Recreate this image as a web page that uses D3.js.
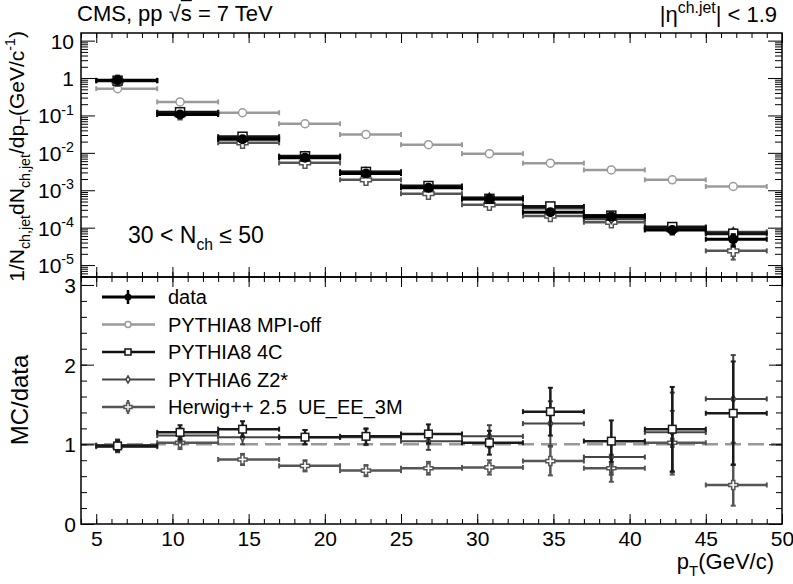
<!DOCTYPE html>
<html>
<head>
<meta charset="utf-8">
<script src="https://cdn.jsdelivr.net/npm/d3@7"></script>
<style>
body { margin: 0; background: #fff; }
text { font-family: "Liberation Sans", Arial, Helvetica, sans-serif; fill: #000; }
</style>
</head>
<body>
<svg id="chart" width="793" height="584"></svg>
<script>
// bins in pT (GeV/c) and mean pT of each bin
const binEdges = [5, 9, 13, 17, 21, 25, 29, 33, 37, 41, 45, 49];
const ptMean = [6.4, 10.5, 14.6, 18.7, 22.7, 26.8, 30.8, 34.8, 38.8, 42.8, 46.8];

// upper panel: 1/N dN/dpT
const dataVals = [0.87, 0.106, 0.023, 0.0074, 0.0028, 0.00116, 0.00058, 0.00026, 0.0002, 0.000087, 0.000049];
const dataErr = [0.08, 0.01, 0.002, 0.0007, 0.0003, 0.00013, 0.00007, 0.00004, 0.00003, 0.000018, 0.000018];
const mpiOffVals = [0.52, 0.23, 0.118, 0.06, 0.031, 0.0165, 0.0095, 0.0053, 0.0035, 0.0019, 0.00126];
const mpiOffErr = [0.005, 0.002, 0.001, 0.0005, 0.0003, 0.0002, 0.0001, 0.00006, 0.00004, 0.00003, 0.00002];
const p84cVals = [0.85, 0.122, 0.027, 0.0081, 0.0031, 0.0013, 0.00059, 0.00037, 0.00021, 0.000104, 0.000069];
const p84cErr = [0.01, 0.002, 0.0006, 0.0002, 0.0001, 0.00005, 0.00003, 0.00003, 0.00002, 0.000015, 0.000012];
const z2Vals = [0.86, 0.118, 0.025, 0.0081, 0.0031, 0.0012, 0.00064, 0.00033, 0.00017, 0.0001, 0.000077];
const z2Err = [0.01, 0.002, 0.0006, 0.0002, 0.0001, 0.00005, 0.00003, 0.00003, 0.00002, 0.000015, 0.000012];
const hwVals = [0.84, 0.108, 0.0186, 0.0054, 0.0019, 0.00081, 0.00041, 0.000205, 0.00014, 0.000089, 0.000024];
const hwErr = [0.01, 0.002, 0.0005, 0.0002, 0.00008, 0.00004, 0.00003, 0.00002, 0.000015, 0.000012, 0.00001];

// lower panel: MC/data
const r4cVals = [0.98, 1.15, 1.19, 1.09, 1.10, 1.13, 1.02, 1.41, 1.04, 1.19, 1.39];
const r4cErr = [0.07, 0.09, 0.10, 0.09, 0.10, 0.12, 0.15, 0.30, 0.26, 0.53, 0.65];
const rz2Vals = [0.99, 1.11, 1.09, 1.09, 1.09, 1.04, 1.10, 1.26, 0.84, 1.15, 1.57];
const rz2Err = [0.07, 0.09, 0.09, 0.09, 0.10, 0.11, 0.14, 0.28, 0.22, 0.50, 0.55];
const rhwVals = [0.97, 1.02, 0.81, 0.73, 0.67, 0.70, 0.71, 0.79, 0.70, 1.02, 0.49];
const rhwErr = [0.07, 0.08, 0.07, 0.07, 0.07, 0.08, 0.09, 0.18, 0.17, 0.40, 0.26];

const xMajor = [5, 10, 15, 20, 25, 30, 35, 40, 45, 50];
const yTopMajor = [1e-5, 1e-4, 1e-3, 1e-2, 1e-1, 1, 10];
const yTopLabels = [["10", "-5"], ["10", "-4"], ["10", "-3"], ["10", "-2"], ["10", "-1"], ["1", ""], ["10", ""]];
const yBotMajor = [0, 1, 2, 3];

const legendNames = ["data", "PYTHIA8 MPI-off", "PYTHIA8 4C", "PYTHIA6 Z2*", "Herwig++ 2.5\u00a0 UE_EE_3M"];

const svg = d3.select("#chart");
svg.append("rect").attr("width", 793).attr("height", 584).attr("fill", "#fff");

const x = d3.scaleLinear().domain([4, 50]).range([81, 782]);
const yTop = d3.scaleLog().domain([4.8e-6, 16]).range([277, 33]);
const yBot = d3.scaleLinear().domain([0, 3.1]).range([524, 277]);

const styles = {
    data: { color: "#000", w: 3, marker: "fcircle", size: 5 },
    mpi: { color: "#9a9a9a", w: 2.5, marker: "ocircle", size: 4 },
    p84c: { color: "#111", w: 3, marker: "osquare", size: 4.5 },
    z2: { color: "#3c3c3c", w: 2.5, marker: "odiamond", size: 4.5 },
    hw: { color: "#555", w: 2.5, marker: "ocross", size: 5.5 }
};

function marker(g, type, cx, cy, s, color) {
    if (type === "fcircle") {
        g.append("circle").attr("cx", cx).attr("cy", cy).attr("r", s).attr("fill", color);
    } else if (type === "ocircle") {
        g.append("circle").attr("cx", cx).attr("cy", cy).attr("r", s)
            .attr("fill", "#fff").attr("stroke", color).attr("stroke-width", 1.5);
    } else if (type === "osquare") {
        g.append("rect").attr("x", cx - s).attr("y", cy - s).attr("width", 2 * s).attr("height", 2 * s)
            .attr("fill", "#fff").attr("stroke", color).attr("stroke-width", 1.5);
    } else if (type === "odiamond") {
        const w = s * 0.6;
        g.append("path").attr("d", `M${cx},${cy - s}L${cx + w},${cy}L${cx},${cy + s}L${cx - w},${cy}Z`)
            .attr("fill", "#fff").attr("stroke", color).attr("stroke-width", 1.5);
    } else if (type === "ocross") {
        const a = s * 0.35;
        const p = [[-a, -s], [a, -s], [a, -a], [s, -a], [s, a], [a, a], [a, s], [-a, s], [-a, a], [-s, a], [-s, -a], [-a, -a]];
        g.append("path").attr("d", "M" + p.map(q => (cx + q[0]) + "," + (cy + q[1])).join("L") + "Z")
            .attr("fill", "#fff").attr("stroke", color).attr("stroke-width", 1.5);
    }
}

function drawSeries(y, vals, errs, st, msize) {
    const g = svg.append("g");
    const ymin = y.domain()[0];
    vals.forEach((v, i) => {
        const cx = x(ptMean[i]), cy = y(v);
        const x0 = x(binEdges[i]), x1 = x(binEdges[i + 1]);
        const yl = y(Math.max(v - errs[i], ymin)), yh = y(v + errs[i]);
        g.append("line").attr("x1", x0).attr("x2", x1).attr("y1", cy).attr("y2", cy)
            .attr("stroke", st.color).attr("stroke-width", st.w);
        [x0, x1].forEach(xe => g.append("line").attr("x1", xe).attr("x2", xe)
            .attr("y1", cy - 2.5).attr("y2", cy + 2.5).attr("stroke", st.color).attr("stroke-width", 2));
        g.append("line").attr("x1", cx).attr("x2", cx).attr("y1", yl).attr("y2", yh)
            .attr("stroke", st.color).attr("stroke-width", st.w);
        [yl, yh].forEach(ye => g.append("line").attr("x1", cx - 2.5).attr("x2", cx + 2.5)
            .attr("y1", ye).attr("y2", ye).attr("stroke", st.color).attr("stroke-width", 2));
        marker(g, st.marker, cx, cy, msize || st.size, st.color);
    });
}

function rich(t, parts, fs, ratio) {
    const r = ratio || 0.68;
    let shift = 0;
    parts.forEach(([s, k]) => {
        const target = k === "sub" ? fs * 0.3 : k === "sup" ? -fs * 0.42 : 0;
        t.append("tspan").attr("dy", target - shift).attr("font-size", k === "n" ? fs : fs * r).text(s);
        shift = target;
    });
}

// ---- upper panel ----
drawSeries(yTop, mpiOffVals, mpiOffErr, styles.mpi);
drawSeries(yTop, hwVals, hwErr, styles.hw);
drawSeries(yTop, z2Vals, z2Err, styles.z2);
drawSeries(yTop, p84cVals, p84cErr, styles.p84c);
drawSeries(yTop, dataVals, dataErr, styles.data);

// ---- lower panel ----
svg.append("line").attr("x1", x(4)).attr("x2", x(50)).attr("y1", yBot(1)).attr("y2", yBot(1))
    .attr("stroke", "#999").attr("stroke-width", 2.5).attr("stroke-dasharray", "16,7");
drawSeries(yBot, rhwVals, rhwErr, styles.hw, 4.5);
drawSeries(yBot, rz2Vals, rz2Err, { color: "#444", w: 2, marker: "odiamond" }, 4);
drawSeries(yBot, r4cVals, r4cErr, { color: "#1a1a1a", w: 2.5, marker: "osquare" }, 3.8);

// ---- frames and ticks ----
const minorX = d3.range(4, 51, 1);
function xTicks(y0, top, labels) {
    const mk = () => top ? d3.axisTop(x) : d3.axisBottom(x);
    svg.append("g").attr("transform", `translate(0,${y0})`)
        .call(mk().tickValues(minorX).tickSize(-5).tickFormat(""))
        .call(g => g.select(".domain").remove());
    const gm = svg.append("g").attr("transform", `translate(0,${y0})`)
        .call(mk().tickValues(xMajor).tickSize(-10).tickPadding(7).tickFormat(labels ? d3.format("d") : ""))
        .call(g => g.select(".domain").remove());
    gm.attr("font-family", null).attr("font-size", null);
    gm.selectAll("text").attr("font-size", 21);
}
xTicks(33, true, false);
xTicks(277, false, false);
xTicks(277, true, false);
xTicks(524, false, true);

const minorLog = [];
for (let d = -6; d <= 1; d++) for (let k = 2; k <= 9; k++) {
    const v = k * Math.pow(10, d);
    if (v > yTop.domain()[0] && v < yTop.domain()[1]) minorLog.push(v);
}
[[81, d3.axisLeft], [782, d3.axisRight]].forEach(([xp, ax]) => {
    svg.append("g").attr("transform", `translate(${xp},0)`)
        .call(ax(yTop).tickValues(minorLog).tickSize(-7).tickFormat(""))
        .call(g => g.select(".domain").remove());
    svg.append("g").attr("transform", `translate(${xp},0)`)
        .call(ax(yTop).tickValues(yTopMajor).tickSize(-14).tickFormat(""))
        .call(g => g.select(".domain").remove());
    svg.append("g").attr("transform", `translate(${xp},0)`)
        .call(ax(yBot).tickValues(d3.range(0, 3.01, 0.2)).tickSize(-6).tickFormat(""))
        .call(g => g.select(".domain").remove());
    svg.append("g").attr("transform", `translate(${xp},0)`)
        .call(ax(yBot).tickValues(yBotMajor).tickSize(-13).tickFormat(""))
        .call(g => g.select(".domain").remove());
});
svg.selectAll(".tick line").attr("stroke", "#000");

svg.append("rect").attr("x", 81).attr("y", 33).attr("width", 701).attr("height", 244)
    .attr("fill", "none").attr("stroke", "#000").attr("stroke-width", 1.5);
svg.append("rect").attr("x", 81).attr("y", 277).attr("width", 701).attr("height", 247)
    .attr("fill", "none").attr("stroke", "#000").attr("stroke-width", 1.5);

// y tick labels
yTopMajor.forEach((v, i) => {
    const t = svg.append("text").attr("x", 74).attr("y", yTop(v) + 8).attr("text-anchor", "end");
    const [base, sup] = yTopLabels[i];
    if (sup) rich(t, [[base, "n"], [sup, "sup"]], 21);
    else t.attr("font-size", 21).text(base);
});
yBotMajor.forEach(v => {
    svg.append("text").attr("x", 76).attr("y", yBot(v) + 8).attr("text-anchor", "end")
        .attr("font-size", 21).text(v);
});

// ---- titles ----
const t1 = svg.append("text").attr("x", 77).attr("y", 21).attr("font-size", 22);
t1.append("tspan").text("CMS, pp \u221a");
t1.append("tspan").attr("text-decoration", "overline").text("s");
t1.append("tspan").text(" = 7 TeV");

const t2 = svg.append("text").attr("x", 777).attr("y", 22).attr("text-anchor", "end");
rich(t2, [["|\u03b7", "n"], ["ch.jet", "sup"], ["| < 1.9", "n"]], 22, 0.72);

const t3 = svg.append("text").attr("x", 128).attr("y", 243);
rich(t3, [["30 < N", "n"], ["ch", "sub"], [" \u2264 50", "n"]], 23);

const yt = svg.append("text").attr("transform", "translate(24,31) rotate(-90)").attr("text-anchor", "end");
rich(yt, [["1/N", "n"], ["ch,jet", "sub"], ["dN", "n"], ["ch,jet", "sub"], ["/dp", "n"], ["T", "sub"],
    ["(GeV/c", "n"], ["-1", "sup"], [")", "n"]], 21);

svg.append("text").attr("transform", "translate(28,400) rotate(-90)").attr("text-anchor", "middle")
    .attr("font-size", 24).text("MC/data");

const xt = svg.append("text").attr("x", 774).attr("y", 569).attr("text-anchor", "end");
rich(xt, [["p", "n"], ["T", "sub"], ["(GeV/c)", "n"]], 22);

// ---- legend ----
const legStyles = [styles.data, styles.mpi, { color: "#111", w: 2.5, marker: "osquare" },
    { color: "#444", w: 2, marker: "odiamond" }, styles.hw];
const legSizes = [3.5, 3, 3, 3.5, 4];
const legY = d3.scalePoint().domain(legendNames).range([297, 407]);
legendNames.forEach((name, i) => {
    const st = legStyles[i], ly = legY(name);
    const g = svg.append("g");
    g.append("line").attr("x1", 102).attr("x2", 155).attr("y1", ly).attr("y2", ly)
        .attr("stroke", st.color).attr("stroke-width", st.w);
    if (i === 0 || i === 4) {
        g.append("line").attr("x1", 128).attr("x2", 128).attr("y1", ly - 7).attr("y2", ly + 7)
            .attr("stroke", st.color).attr("stroke-width", 2.5);
    }
    marker(g, st.marker, 128, ly, legSizes[i], st.color);
    svg.append("text").attr("x", 168).attr("y", ly + 7).attr("font-size", 20).text(name);
});
</script>
</body>
</html>
